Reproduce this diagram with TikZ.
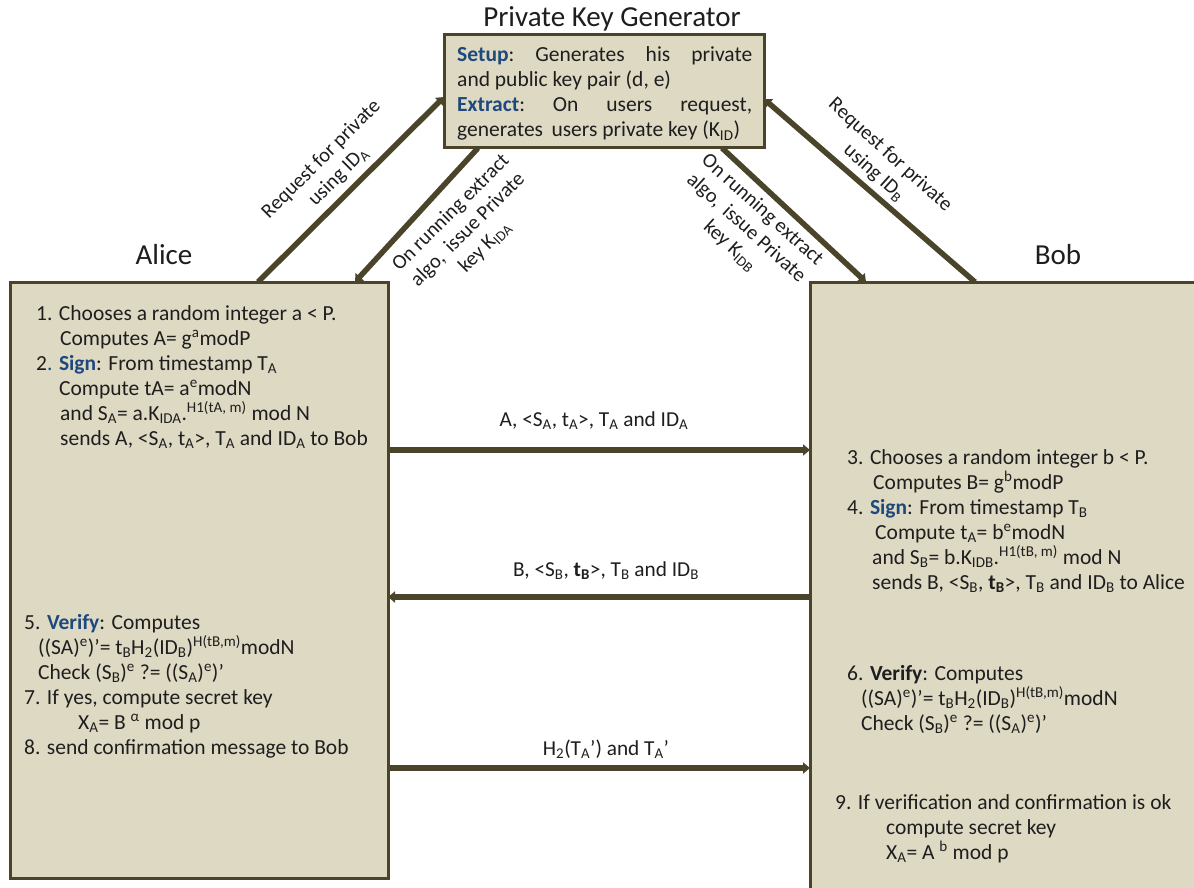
\documentclass[tikz,border=0pt]{standalone}
\usepackage{fontspec}
\setmainfont{Carlito}
\usetikzlibrary{arrows.meta}
\definecolor{boxfill}{HTML}{DDD9C3}
\definecolor{edge}{HTML}{4A452A}
\definecolor{kw}{HTML}{1F497D}
\definecolor{ink}{HTML}{1E1E1E}
\newcommand\sbs[1]{\textsubscript{#1}}
\newcommand\sps[1]{\textsuperscript{#1}}
\begin{document}
\begin{tikzpicture}[x=1pt,y=-1pt,
  box/.style={draw=edge, fill=boxfill, line width=3pt, inner sep=0pt, outer sep=0pt, anchor=north west},
  arr/.style={draw=edge, line width=5.5pt, -{Triangle[length=7pt,width=11pt]}},
  txt/.style={anchor=base west, inner sep=0pt, text=ink, font=\fontsize{21.5pt}{25pt}\selectfont},
  lbl/.style={anchor=base, inner sep=0pt, text=ink, font=\fontsize{21.3pt}{25pt}\selectfont},
  dlbl/.style={inner sep=0pt, text=ink, align=center, font=\fontsize{20.5pt}{24pt}\selectfont},
  head/.style={anchor=base, inner sep=0pt, text=ink, font=\fontsize{29pt}{32pt}\selectfont}]
\useasboundingbox (0,0) rectangle (1194,888);
\clip (0,0) rectangle (1194,888);
\fill[white] (0,0) rectangle (1194,888);

% boxes
\node[box, minimum width=320pt, minimum height=113pt] (pkg) at (444,35) {};
\node[box, minimum width=378pt, minimum height=596pt] (alice) at (10,282) {};
\node[box, minimum width=400pt, minimum height=620pt] (bob) at (810,282) {};

% headings
\node[head] (tpkg) at (612,27) {Private Key Generator};
\node[head] (talice) at (164,264) {Alice};
\node[head] (tbob) at (1058,264) {Bob};

% PKG text
\node[txt] (p1) at (457,62) {\hbox to 295pt{\textcolor{kw}{\textbf{Setup}}:\hfill Generates\hfill his\hfill private}};
\node[txt] (p2) at (457,87) {and public key pair (d, e)};
\node[txt] (p3) at (457,112) {\hbox to 295pt{\textcolor{kw}{\textbf{Extract}}:\hfill On\hfill users\hfill request,}};
\node[txt] (p4) at (457,137) {generates\, users private key (K\sbs{ID})};

% diagonal arrows
\draw[arr] (258,0 |- alice.north) -- (pkg.west |- 0,97);
\draw[arr] (478,0 |- pkg.south) -- (355,0 |- alice.north);
\draw[arr] (722,0 |- pkg.south) -- (866,0 |- bob.north);
\draw[arr] (975,0 |- bob.north) -- (pkg.east |- 0,99);

\node[dlbl, rotate=45] (d1) at (330,168) {Request for private\\using ID\sbs{A}};
\node[dlbl, rotate=45] (d2) at (468,230) {On running extract\\algo,\, issue Private\\key K\sbs{IDA}};
\node[dlbl, rotate=-42] (d3) at (746,228) {On running extract\\algo,\, issue Private\\key K\sbs{IDB}};
\node[dlbl, rotate=-42] (d4) at (882,164) {Request for private\\using ID\sbs{B}};

% horizontal messages
\draw[arr] (alice.east |- 0,450) -- (bob.west |- 0,450);
\draw[arr] (bob.west |- 0,597) -- (alice.east |- 0,597);
\draw[arr] (alice.east |- 0,768) -- (bob.west |- 0,768);
\node[lbl] (m1) at (594,426) {A, <S\sbs{A}, t\sbs{A}>, T\sbs{A} and ID\sbs{A}};
\node[lbl] (m2) at (606,576) {B, <S\sbs{B}, \textbf{t}\sbs{\textbf{B}}>, T\sbs{B} and ID\sbs{B}};
\node[lbl] (m3) at (606,755) {H\sbs{2}(T\sbs{A}’) and T\sbs{A}’};

% Alice text
\node[txt] (a1) at (36,320) {1. Chooses a random integer a < P.};
\node[txt] (a2) at (60,345) {Computes A= g\sps{a}modP};
\node[txt] (a3) at (36,370) {2\textcolor{kw}{. \textbf{Sign}}: From timestamp T\sbs{A}};
\node[txt] (a4) at (59,395) {Compute tA= a\sps{e}modN};
\node[txt] (a5) at (60,420) {and S\sbs{A}= a.K\sbs{IDA}.\sps{H1(tA, m)} mod N};
\node[txt] (a6) at (60,445) {sends A, <S\sbs{A}, t\sbs{A}>, T\sbs{A} and ID\sbs{A} to Bob};
\node[txt] (a7) at (24,629) {5. \textcolor{kw}{\textbf{Verify}}: Computes};
\node[txt] (a8) at (38,654) {((SA)\sps{e})’= t\sbs{B}H\sbs{2}(ID\sbs{B})\sps{H(tB,m)}modN};
\node[txt] (a9) at (38,679) {Check (S\sbs{B})\sps{e} ?= ((S\sbs{A})\sps{e})’};
\node[txt] (a10) at (24,704) {7. If yes, compute secret key};
\node[txt] (a11) at (78,729) {X\sbs{A}= B \sps{α} mod p};
\node[txt] (a12) at (24,754) {8. send confirmation message to Bob};

% Bob text
\node[txt] (b1) at (847,464) {3. Chooses a random integer b < P.};
\node[txt] (b2) at (873,489) {Computes B= g\sps{b}modP};
\node[txt] (b3) at (847,514) {4. \textcolor{kw}{\textbf{Sign}}: From timestamp T\sbs{B}};
\node[txt] (b4) at (875,539) {Compute t\sbs{A}= b\sps{e}modN};
\node[txt] (b5) at (872,564) {and S\sbs{B}= b.K\sbs{IDB}.\sps{H1(tB, m)} mod N};
\node[txt] (b6) at (872,589) {sends B, <S\sbs{B}, \textbf{t}\sbs{\textbf{B}}>, T\sbs{B} and ID\sbs{B} to Alice};
\node[txt] (b7) at (847,680) {6. \textbf{Verify}: Computes};
\node[txt] (b8) at (861,705) {((SA)\sps{e})’= t\sbs{B}H\sbs{2}(ID\sbs{B})\sps{H(tB,m)}modN};
\node[txt] (b9) at (861,730) {Check (S\sbs{B})\sps{e} ?= ((S\sbs{A})\sps{e})’};
\node[txt] (b10) at (835,809) {9. If verification and confirmation is ok};
\node[txt] (b11) at (886,834) {compute secret key};
\node[txt] (b12) at (886,859) {X\sbs{A}= A \sps{b} mod p};
\end{tikzpicture}
\end{document}
